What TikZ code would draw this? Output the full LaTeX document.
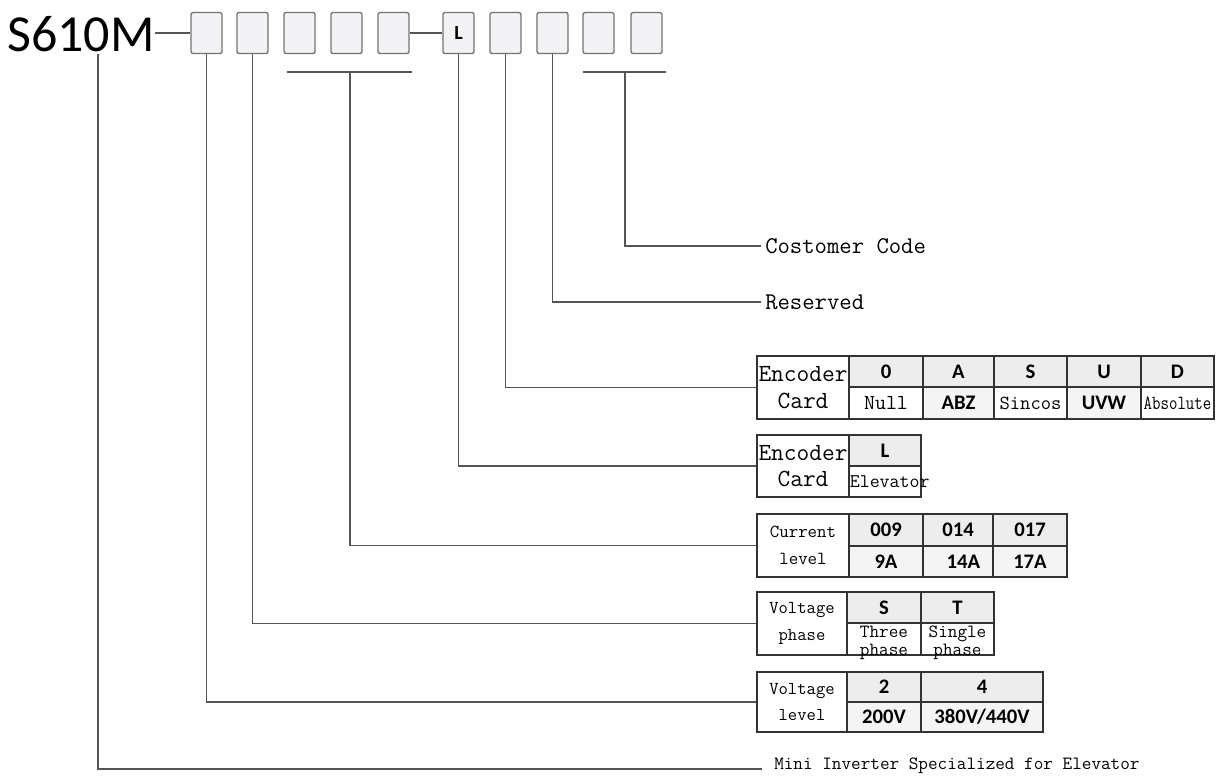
\documentclass[tikz,border=0pt]{standalone}
\usepackage{fontspec}
\usepackage{graphicx}
\newfontfamily\carl{Carlito}
\definecolor{hdr}{HTML}{EDEDED}
\definecolor{boxfill}{HTML}{F3F3F6}
\definecolor{linec}{HTML}{555555}
\definecolor{tabc}{HTML}{333333}
\newcommand\tabcell[7]{%
  \node[tcell, fill=#6, minimum width={(#4-#2)*0.75pt}, minimum height={(#5-#3)*0.75pt}] (#1) at ({(#2+#4)/2},{(#3+#5)/2}) {};
  \node[txt] at (#1.center) {#7};}
\newcommand\sfb[1]{{\carl\bfseries\fontsize{15.5}{17}\selectfont #1}}
\newcommand\ttx[2]{{\ttfamily\fontsize{#1}{#1}\selectfont #2}}
\begin{document}
\begin{tikzpicture}[x=0.75pt,y=-0.75pt,
  conn/.style={draw=linec, line width=1.1pt},
  digbox/.style={draw=black!55, fill=boxfill, rounded corners=1.5pt, line width=1pt,
    minimum width=31*0.75pt, minimum height=41*0.75pt, inner sep=0pt},
  tcell/.style={draw=tabc, line width=1.1pt, inner sep=0pt},
  txt/.style={inner sep=0pt, align=center},
  lbl/.style={anchor=west, inner sep=3pt, font=\ttfamily\fontsize{18}{18}\selectfont}
]
\useasboundingbox (0,0) rectangle (1222,776);

% code line
\node[inner sep=0pt, font=\carl\fontsize{39}{42}\selectfont] (s610) at (81,34) {S610M};
\node[digbox] (b1) at (206.5,33) {};
\node[digbox] (b2) at (252.5,33) {};
\node[digbox] (b3) at (299.5,33) {};
\node[digbox] (b4) at (346.5,33) {};
\node[digbox] (b5) at (393.5,33) {};
\node[digbox, font=\carl\bfseries\fontsize{15}{16}\selectfont] (b6) at (458.5,33) {L};
\node[digbox] (b7) at (505.5,33) {};
\node[digbox] (b8) at (552.5,33) {};
\node[digbox] (b9) at (598.5,33) {};
\node[digbox] (b10) at (646.5,33) {};
\draw[conn] (s610.east |- b1.west) -- (b1.west);
\draw[conn] (b5.east) -- (b6.west);

% brackets
\coordinate (br1l) at (287,72);
\coordinate (br1r) at (412,72);
\coordinate (br1m) at (350,72);
\coordinate (br2l) at (583,72);
\coordinate (br2r) at (666,72);
\coordinate (br2m) at (625,72);
\draw[conn] (br1l) -- (br1r);
\draw[conn] (br2l) -- (br2r);

% text labels
\node[lbl] (cc) at (761,246) {Costomer Code};
\node[lbl] (res) at (761,302) {Reserved};
\node[anchor=base west, inner xsep=9pt, inner ysep=0pt, font=\ttfamily\fontsize{14}{14}\selectfont] (mini) at (762,769) {Mini Inverter Specialized for Elevator};
\coordinate (sdrop) at (98,54);

% Encoder card table
\tabcell{ec}{757}{356}{849}{419}{white}{\ttx{18.5}{Encoder}\\[8pt]\ttx{18.5}{Card}}
\tabcell{ec1}{849}{356}{923}{387}{hdr}{\sfb{0}}
\tabcell{ec2}{923}{356}{994}{387}{hdr}{\sfb{A}}
\tabcell{ec3}{994}{356}{1067}{387}{hdr}{\sfb{S}}
\tabcell{ec4}{1067}{356}{1141}{387}{hdr}{\sfb{U}}
\tabcell{ec5}{1141}{356}{1214}{387}{hdr}{\sfb{D}}
\tabcell{ed1}{849}{387}{923}{419}{white}{\ttx{16}{Null}}
\tabcell{ed2}{923}{387}{994}{419}{hdr!60}{\sfb{ABZ}}
\tabcell{ed3}{994}{387}{1067}{419}{white}{\ttx{15}{Sincos}}
\tabcell{ed4}{1067}{387}{1141}{419}{hdr!60}{\sfb{UVW}}
\tabcell{ed5}{1141}{387}{1214}{419}{white}{\scalebox{0.82}[1]{\ttx{15}{Absolute}}}

% Encoder card L table
\tabcell{el}{757}{435}{849}{497}{white}{\ttx{18.5}{Encoder}\\[8pt]\ttx{18.5}{Card}}
\tabcell{el1}{849}{435}{921}{466}{hdr}{\sfb{L}}
\tabcell{el2}{849}{466}{921}{497}{white}{}
\node[inner sep=0pt, anchor=west] at ([xshift=1pt]el2.west) {\ttx{14.5}{Elevator}};

% Current level table
\tabcell{cl}{757}{514}{849}{577}{white}{\ttx{13.8}{Current}\\[8pt]\ttx{13.8}{level}}
\tabcell{cl1}{849}{514}{923}{546}{hdr}{\sfb{009}}
\tabcell{cl2}{923}{514}{993}{546}{hdr}{\sfb{014}}
\tabcell{cl3}{993}{514}{1067}{546}{hdr}{\sfb{017}}
\tabcell{cm1}{849}{546}{923}{577}{hdr!60}{\sfb{9A}}
\tabcell{cm2}{923}{546}{993}{577}{hdr!60}{\hspace*{8pt}\sfb{14A}}
\tabcell{cm3}{993}{546}{1067}{577}{hdr!60}{\sfb{17A}}

% Voltage phase table
\tabcell{vp}{757}{592}{847}{655}{white}{\ttx{13.6}{Voltage}\\[8pt]\ttx{13.6}{phase}}
\tabcell{vp1}{847}{592}{921}{623}{hdr}{\sfb{S}}
\tabcell{vp2}{921}{592}{994}{623}{hdr}{\sfb{T}}
\tabcell{vq1}{847}{623}{921}{655}{white}{}
\tabcell{vq2}{921}{623}{994}{655}{white}{}
\node[txt] at ([yshift=-3pt]vq1.center) {\ttx{14}{Three}\\[1.5pt]\ttx{14}{phase}};
\node[txt] at ([yshift=-3pt]vq2.center) {\ttx{14}{Single}\\[1.5pt]\ttx{14}{phase}};

% Voltage level table
\tabcell{vl}{757}{672}{847}{732}{white}{\ttx{13.6}{Voltage}\\[8pt]\ttx{13.6}{level}}
\tabcell{vl1}{847}{672}{921}{702}{hdr}{\sfb{2}}
\tabcell{vl2}{921}{672}{1043}{702}{hdr}{\sfb{4}}
\tabcell{vm1}{847}{702}{921}{732}{hdr!60}{\sfb{200V}}
\tabcell{vm2}{921}{702}{1043}{732}{hdr!60}{\sfb{380V/440V}}

% connectors
\draw[conn] (sdrop) |- (mini.base west);
\draw[conn] (b1.south) |- (vl.west);
\draw[conn] (b2.south) |- (vp.west);
\draw[conn] (br1m) |- (cl.west);
\draw[conn] (b6.south) |- (el.west);
\draw[conn] (b7.south) |- (ec.west);
\draw[conn] (b8.south) |- (res.west);
\draw[conn] (br2m) |- (cc.west);
\end{tikzpicture}
\end{document}
